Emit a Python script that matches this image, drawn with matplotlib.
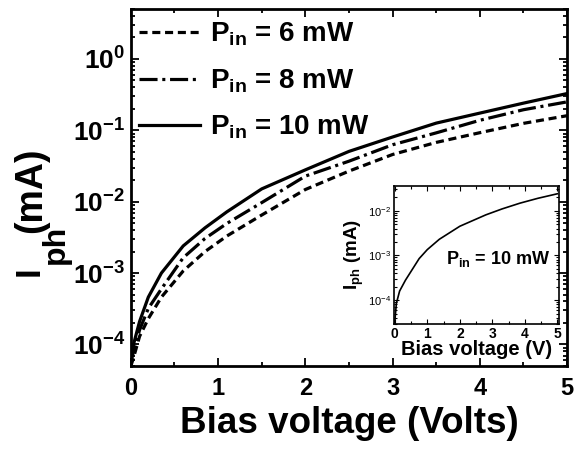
import matplotlib
matplotlib.use("Agg")
import matplotlib.pyplot as plt
from matplotlib.ticker import FixedLocator, LogLocator, NullFormatter, MultipleLocator

plt.rcParams["font.family"] = ["Liberation Sans", "DejaVu Sans"]
plt.rcParams["mathtext.fontset"] = "custom"
plt.rcParams["mathtext.rm"] = "Liberation Sans"
plt.rcParams["mathtext.bf"] = "Liberation Sans:bold"
plt.rcParams["mathtext.it"] = "Liberation Sans:italic"
plt.rcParams["lines.scale_dashes"] = False

# Photocurrent vs bias voltage for three input powers (main panel)
voltage = [0, 0.03, 0.1, 0.2, 0.35, 0.6, 0.85, 1.1, 1.5, 2.0, 2.5, 3.0, 3.5, 4.0, 4.5, 5.0]
iph_6mw = [5e-5, 6.5e-5, 1.3e-4, 2.3e-4, 4.6e-4, 1.07e-3, 2.0e-3, 3.3e-3, 6.5e-3,
           0.0148, 0.0268, 0.0458, 0.0676, 0.0925, 0.125, 0.16]
iph_8mw = [5.5e-5, 8e-5, 1.6e-4, 3.2e-4, 6e-4, 1.64e-3, 3.05e-3, 4.95e-3, 9.7e-3,
           0.0228, 0.0369, 0.0627, 0.092, 0.138, 0.194, 0.25]
iph_10mw = [6e-5, 1e-4, 2.1e-4, 4.6e-4, 1.0e-3, 2.4e-3, 4.3e-3, 7.2e-3, 0.0151,
            0.0279, 0.0506, 0.0805, 0.126, 0.174, 0.24, 0.327]

series_labels = [r"$\mathbf{P_{in}}$ = 6 mW", r"$\mathbf{P_{in}}$ = 8 mW", r"$\mathbf{P_{in}}$ = 10 mW"]

# Inset: single curve at 10 mW
voltage_inset = [0, 0.05, 0.15, 0.33, 0.75, 1.0, 1.37, 2.0, 2.8, 3.3, 3.85, 4.4, 5.0]
iph_inset = [3.2e-5, 8.5e-5, 1.6e-4, 2.8e-4, 8.5e-4, 1.35e-3, 2.3e-3, 4.5e-3, 8.1e-3,
             1.1e-2, 1.48e-2, 1.9e-2, 2.4e-2]
inset_label = r"$\mathbf{P_{in}}$ = 10 mW"

xticks_main = [0, 1, 2, 3, 4, 5]
yticks_main = [1e-4, 1e-3, 1e-2, 1e-1, 1e0]
ytick_labels_main = [r"$\mathbf{10^{-4}}$", r"$\mathbf{10^{-3}}$", r"$\mathbf{10^{-2}}$",
                     r"$\mathbf{10^{-1}}$", r"$\mathbf{10^{0}}$"]
yticks_inset = [1e-4, 1e-3, 1e-2]
ytick_labels_inset = [r"$10^{-4}$", r"$10^{-3}$", r"$10^{-2}$"]

W, H = 574, 449
fig = plt.figure(figsize=(W / 100, H / 100), dpi=100)
ax = fig.add_axes([0.228, 0.185, 0.760, 0.795])

ax.plot(voltage, iph_6mw, color="black", lw=2.3, dashes=(5.8, 3.4), label=series_labels[0])
ax.plot(voltage, iph_8mw, color="black", lw=2.3, dashes=(13, 3.4, 2.2, 3.4), label=series_labels[1])
ax.plot(voltage, iph_10mw, color="black", lw=2.3, label=series_labels[2])

ax.set_yscale("log")
ax.set_xlim(0, 5)
ax.set_ylim(5e-5, 5)
ax.xaxis.set_major_locator(FixedLocator(xticks_main))
ax.xaxis.set_minor_locator(MultipleLocator(0.5))
ax.yaxis.set_major_locator(FixedLocator(yticks_main))
ax.set_yticklabels(ytick_labels_main)
ax.yaxis.set_minor_locator(LogLocator(base=10, subs=range(2, 10), numticks=20))
ax.yaxis.set_minor_formatter(NullFormatter())
ax.tick_params(which="both", direction="in", top=True, right=True, width=1.3)
ax.tick_params(which="major", length=6)
ax.tick_params(which="minor", length=3)
ax.tick_params(axis="x", labelsize=17, pad=8)
ax.tick_params(axis="y", labelsize=19, pad=4)
for t in ax.get_xticklabels():
    t.set_fontweight("bold")
for s in ax.spines.values():
    s.set_linewidth(2)

ax.set_xlabel("Bias voltage (Volts)", fontsize=26.5, fontweight="bold", labelpad=4)

# Y label: I with a large, lowered "ph" subscript, then the unit
ylab_kw = dict(rotation=90, rotation_mode="anchor", ha="left", va="baseline",
               fontweight="bold")
fig.text(39 / W, 1 - 276 / H, "I", fontsize=25, **ylab_kw)
fig.text(64 / W, 1 - 264 / H, "ph", fontsize=23, **ylab_kw)
fig.text(41 / W, 1 - 233 / H, "(mA)", fontsize=27, **ylab_kw)

leg = ax.legend(loc="upper left", bbox_to_anchor=(0.0, 0.99), frameon=False,
                fontsize=20, handlelength=2.2, handletextpad=0.36,
                labelspacing=0.68, borderaxespad=0.1, borderpad=0.2)
for t in leg.get_texts():
    t.set_fontweight("bold")

# Inset panel
axi = fig.add_axes([0.686, 0.278, 0.288, 0.308])
axi.plot(voltage_inset, iph_inset, color="black", lw=1.2)
axi.set_yscale("log")
axi.set_xlim(-0.03, 5.05)
axi.set_ylim(2.9e-5, 3.6e-2)
axi.xaxis.set_major_locator(FixedLocator(xticks_main))
axi.xaxis.set_minor_locator(MultipleLocator(0.5))
axi.yaxis.set_major_locator(FixedLocator(yticks_inset))
axi.set_yticklabels(ytick_labels_inset)
axi.yaxis.set_minor_locator(LogLocator(base=10, subs=range(2, 10), numticks=20))
axi.yaxis.set_minor_formatter(NullFormatter())
axi.tick_params(which="both", direction="in", top=True, right=True, width=0.8)
axi.tick_params(which="major", length=3.5)
axi.tick_params(which="minor", length=2)
axi.tick_params(axis="x", labelsize=10, pad=2)
axi.tick_params(axis="y", labelsize=8, pad=2)
for t in axi.get_xticklabels():
    t.set_fontweight("bold")
for s in axi.spines.values():
    s.set_linewidth(1.2)
axi.set_xlabel("Bias voltage (V)", fontsize=14.5, fontweight="bold", labelpad=-1)
axi.set_ylabel(r"$\mathbf{I_{ph}}$ (mA)", fontsize=13.5, fontweight="bold", labelpad=1)
axi.text(0.63, 0.47, inset_label, transform=axi.transAxes, ha="center", va="center",
         fontsize=13, fontweight="bold")

fig.savefig("out.png", dpi=100)
